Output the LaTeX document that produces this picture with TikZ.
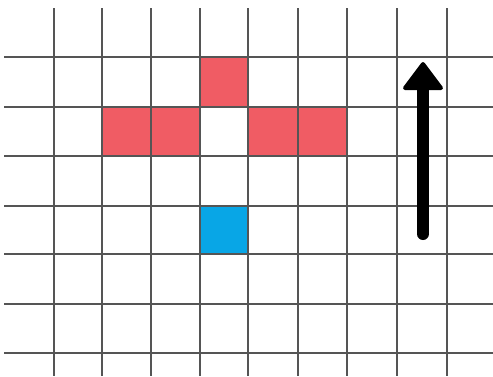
\documentclass[tikz,border=0pt]{standalone}
\usetikzlibrary{arrows.meta}
\definecolor{cellred}{RGB}{240,92,100}
\definecolor{cellblue}{RGB}{8,166,230}
\definecolor{gridgray}{RGB}{85,85,85}
\tikzset{
  gridline/.style={draw=gridgray, line width=2.2pt},
  redcell/.style={fill=cellred},
  bluecell/.style={fill=cellblue},
  bigarrow/.style={draw=black, line width=12pt, line cap=round},
  arrowhead/.style={fill=black, draw=black, line width=4pt, line join=round}
}
\begin{document}
\begin{tikzpicture}[x=1pt,y=-1pt]
\useasboundingbox[fill=white] (0,0) rectangle (493,376);
% cells
\fill[redcell] (200,57) rectangle (248,107);
\fill[redcell] (102,107) rectangle (200,156);
\fill[redcell] (248,107) rectangle (347,156);
\fill[bluecell] (200,206) rectangle (248,254);
% grid
\foreach \x in {54,102,151,200,248,298,347,397,447}
  \draw[gridline] (\x,8) -- (\x,376);
\foreach \y in {57,107,156,206,254,304,353}
  \draw[gridline] (4,\y) -- (493,\y);
% arrow
\draw[bigarrow] (423,234) -- (423,85);
\filldraw[arrowhead] (405,88) -- (423,64) -- (441,88) -- cycle;
\end{tikzpicture}
\end{document}
